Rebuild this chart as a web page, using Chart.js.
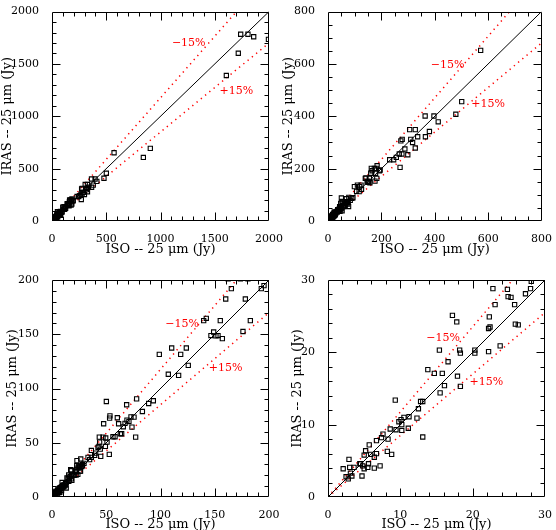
<!DOCTYPE html>
<html>
<head>
<meta charset="utf-8">
<script src="https://cdn.jsdelivr.net/npm/chart.js@4.4.1/dist/chart.umd.min.js"></script>
<style>
  html, body { margin: 0; padding: 0; background: #fff; }
  #wrap { position: relative; width: 556px; height: 530px; }
  #wrap canvas { position: absolute; left: 0; top: 0; }
</style>
</head>
<body>
<div id="wrap">
  <canvas id="c1" width="556" height="530"></canvas>
  <canvas id="c2" width="556" height="530"></canvas>
  <canvas id="c3" width="556" height="530"></canvas>
  <canvas id="c4" width="556" height="530"></canvas>
</div>
<script>
// 25 micron fluxes (Jy), ISO vs IRAS
const faintIso = [2.1, 2.5, 2.8, 2.9, 3.0, 3.1, 3.3, 3.6, 4.4, 4.5, 4.8, 4.7, 5.0, 5.0, 5.2, 5.5, 5.6, 5.7, 5.9,
  6.4, 6.4, 6.7, 6.7, 7.2, 7.4, 7.6, 8.3, 8.2, 8.6, 8.8, 9.3, 9.4, 9.8, 10.1, 10.2, 10.2, 10.5, 11.1, 11.2,
  12.3, 12.5, 12.8, 13.1, 13.1, 13.8, 14.7, 15.4, 15.5, 15.8, 16.1, 16.6, 17.2, 17.8, 17.9, 18.2, 18.3, 18.3,
  20.3, 20.3, 22.2, 22.2, 22.4, 22.3, 22.8, 23.1, 23.8, 24.8, 24.9, 25.3, 25.8, 25.9, 26.3, 27.3, 28.0, 28.1,
  23.0, 26.5, 29.5];
const faintIras = [3.9, 2.8, 2.5, 5.2, 4.1, 3.3, 2.9, 4.1, 4.6, 4.6, 4.3, 2.9, 3.9, 5.8, 6.4, 4.1, 4.6, 7.2, 5.9,
  5.5, 4.0, 6.0, 7.8, 4.3, 8.2, 8.7, 8.0, 6.3, 9.4, 5.9, 13.4, 9.3, 10.4, 10.7, 10.0, 9.2, 11.0, 9.5, 11.1,
  10.9, 12.2, 13.2, 13.2, 8.3, 17.6, 17.1, 20.3, 14.4, 17.1, 15.4, 18.7, 25.1, 24.2, 16.7, 20.3, 19.9, 15.3,
  20.3, 19.9, 20.1, 23.3, 23.5, 24.9, 28.8, 26.6, 20.9, 28.7, 27.7, 27.6, 26.6, 23.9, 23.8, 28.1, 28.8, 29.8,
  33.5, 35.0, 31.0];

const midIso = [33.2, 34.7, 36.3, 36.3, 39.3, 40.2, 42.4, 43.3, 43.6, 43.9, 44.9, 44.5, 47.0, 47.6, 49.2, 49.5,
  50.1, 50.7, 52.8, 53.1, 53.4, 56.2, 58.1, 60.2, 61.4, 63.0, 64.2, 65.7, 67.3, 68.8, 69.1, 70.9, 72.8, 73.7,
  75.6, 77.1, 78.0, 83.3, 89.1, 93.4, 98.9, 107.2, 110.3, 116.7, 118.6, 123.8, 125.6, 139.8, 142.2, 146.5,
  149.0, 151.1, 153.0, 155.1, 157.0, 160.1, 162.3, 165.3, 173.6, 176.0, 178.2, 180.6, 182.8, 184.0, 192.9, 195.4];
const midIras = [36.5, 34.4, 36.5, 42.9, 38.3, 40.5, 45.7, 46.6, 55.2, 50.6, 37.4, 44.1, 55.2, 67.5, 46.6, 54.4,
  88.0, 50.6, 39.3, 72.7, 74.8, 55.5, 55.5, 73.0, 67.5, 58.3, 58.3, 64.7, 67.8, 85.0, 70.9, 69.6, 73.9, 64.4,
  73.6, 55.2, 90.5, 78.8, 86.2, 88.7, 131.5, 113.1, 137.3, 112.1, 131.5, 137.3, 121.3, 162.6, 164.7, 148.8,
  152.1, 148.5, 148.8, 162.6, 146.0, 182.5, 201, 192.0, 201, 152.5, 182.5, 201, 162.6, 211, 192.0, 194.8];

const brightIso = [231, 246, 256, 267, 270, 277, 273, 278, 288, 299, 306, 310, 317, 327, 327, 336, 365, 364,
  380, 397, 413, 479, 501, 572];
const brightIras = [234, 234, 243, 256, 205, 256, 306, 312, 275, 253, 349, 312, 300, 349, 279, 322, 322, 401,
  342, 401, 379, 408, 456, 652];

const veryBrightIso = [842, 906, 1607, 1717, 1739, 1806, 1859, 1995];
const veryBrightIras = [607, 693, 1390, 1602, 1784, 1784, 1760, 1735];

// axis ranges of the four panels
const panelMax = [2000, 800, 200, 30];
const majorStep = [500, 200, 50, 10];
const minorStep = [100, 50, 10, 2];

const ratio = 0.85; // the +-15% guide lines
const tagText = ['\u221215%', '+15%'];

// where each panel sits on the page (chart area box) and where its titles go
const panels = [
  { id: 'c1', area: [52, 5, 269, 221], yTitleX: 8, xTitleY: 247, tagUp: [0.63, 0.85], tagDown: [0.85, 0.62] },
  { id: 'c2', area: [328, 5, 546, 221], yTitleX: 289, xTitleY: 247, tagUp: [0.56, 0.745], tagDown: [0.75, 0.56] },
  { id: 'c3', area: [52, 280, 269, 497], yTitleX: 13, xTitleY: 522, tagUp: [0.60, 0.795], tagDown: [0.80, 0.595] },
  { id: 'c4', area: [328, 280, 546, 497], yTitleX: 298, xTitleY: 522, tagUp: [0.53, 0.73], tagDown: [0.73, 0.53] }
];

const serif = 'DejaVu Serif';
const titleSize = 13;
const halfLine = titleSize * 1.2 / 2;
const titleDrop = 3;

const allIso = [].concat(faintIso, midIso, brightIso, veryBrightIso);
const allIras = [].concat(faintIras, midIras, brightIras, veryBrightIras);
const points = allIso.map((v, i) => ({ x: v, y: allIras[i] }));

// box with inward ticks on all four sides, plus the red +-15% tags
const framePlugin = {
  id: 'frame',
  afterDatasetsDraw(chart, args, opts) {
    const { ctx, chartArea: a, scales: { x, y } } = chart;
    const L = Math.round(a.left) + 0.5, R = Math.round(a.right) - 0.5;
    const T = Math.round(a.top) + 0.5, B = Math.round(a.bottom) - 0.5;
    ctx.save();
    ctx.strokeStyle = '#000';
    ctx.lineWidth = 1;
    ctx.beginPath();
    ctx.rect(L, T, R - L, B - T);
    const n = Math.round(opts.max / opts.minor);
    const every = Math.round(opts.major / opts.minor);
    for (let i = 1; i < n; i++) {
      const v = i * opts.minor;
      const len = i % every === 0 ? 8 : 4;
      const px = Math.round(x.getPixelForValue(v)) + 0.5;
      const py = Math.round(y.getPixelForValue(v)) + 0.5;
      ctx.moveTo(px, B); ctx.lineTo(px, B - len);
      ctx.moveTo(px, T); ctx.lineTo(px, T + len);
      ctx.moveTo(L, py); ctx.lineTo(L + len, py);
      ctx.moveTo(R, py); ctx.lineTo(R - len, py);
    }
    ctx.stroke();

    ctx.fillStyle = '#ff0000';
    ctx.font = '11px "' + serif + '"';
    ctx.textAlign = 'center';
    ctx.textBaseline = 'middle';
    const up = opts.tagUp, down = opts.tagDown;
    ctx.fillText(tagText[0], x.getPixelForValue(up[0] * opts.max), y.getPixelForValue(up[1] * opts.max));
    ctx.fillText(tagText[1], x.getPixelForValue(down[0] * opts.max), y.getPixelForValue(down[1] * opts.max));
    ctx.restore();
  }
};

panels.forEach((p, k) => {
  const max = panelMax[k];
  const [left, top, right, bottom] = p.area;
  const yWidth = left - (p.yTitleX - halfLine);
  const xHeight = p.xTitleY + halfLine - bottom;

  const guide = (data, color, width, dash) => ({
    data: data,
    showLine: true,
    borderColor: color,
    borderWidth: width,
    borderDash: dash,
    pointRadius: 0,
    clip: 0
  });

  new Chart(document.getElementById(p.id), {
    type: 'scatter',
    data: {
      datasets: [
        {
          data: points,
          pointStyle: 'rect',
          pointRadius: 3,
          pointBorderWidth: 1.1,
          pointBorderColor: '#000',
          pointBackgroundColor: 'rgba(0,0,0,0)',
          clip: 0
        },
        guide([{ x: 0, y: 0 }, { x: max, y: max }], '#000', 1, []),
        guide([{ x: 0, y: 0 }, { x: max, y: max / ratio }], '#ff0000', 1.5, [1.3, 4.2]),
        guide([{ x: 0, y: 0 }, { x: max, y: max * ratio }], '#ff0000', 1.5, [1.3, 4.2])
      ]
    },
    options: {
      responsive: false,
      animation: false,
      events: [],
      layout: {
        padding: {
          left: p.yTitleX - halfLine,
          top: top,
          right: 556 - right,
          bottom: Math.max(0, 530 - bottom - xHeight)
        }
      },
      plugins: {
        legend: { display: false },
        tooltip: { enabled: false },
        frame: { max: max, major: majorStep[k], minor: minorStep[k], tagUp: p.tagUp, tagDown: p.tagDown }
      },
      scales: {
        x: {
          type: 'linear',
          min: 0,
          max: max,
          grid: { display: false },
          border: { display: false },
          ticks: {
            stepSize: majorStep[k],
            autoSkip: false,
            maxRotation: 0,
            padding: 4,
            color: '#000',
            font: { family: serif, size: 11 },
            callback: v => String(v)
          },
          title: {
            display: true,
            text: 'ISO -- 25 \u03bcm (Jy)',
            color: '#000',
            padding: { top: 0, bottom: -titleDrop },
            font: { family: serif, size: titleSize }
          },
          afterFit: s => { s.height = xHeight; }
        },
        y: {
          type: 'linear',
          min: 0,
          max: max,
          grid: { display: false },
          border: { display: false },
          ticks: {
            stepSize: majorStep[k],
            autoSkip: false,
            padding: 5,
            color: '#000',
            font: { family: serif, size: 11 },
            callback: v => String(v)
          },
          title: {
            display: true,
            text: 'IRAS -- 25 \u03bcm (Jy)',
            color: '#000',
            padding: 0,
            font: { family: serif, size: titleSize }
          },
          afterFit: s => { s.width = yWidth; }
        }
      }
    },
    plugins: [framePlugin]
  });
});
</script>
</body>
</html>
